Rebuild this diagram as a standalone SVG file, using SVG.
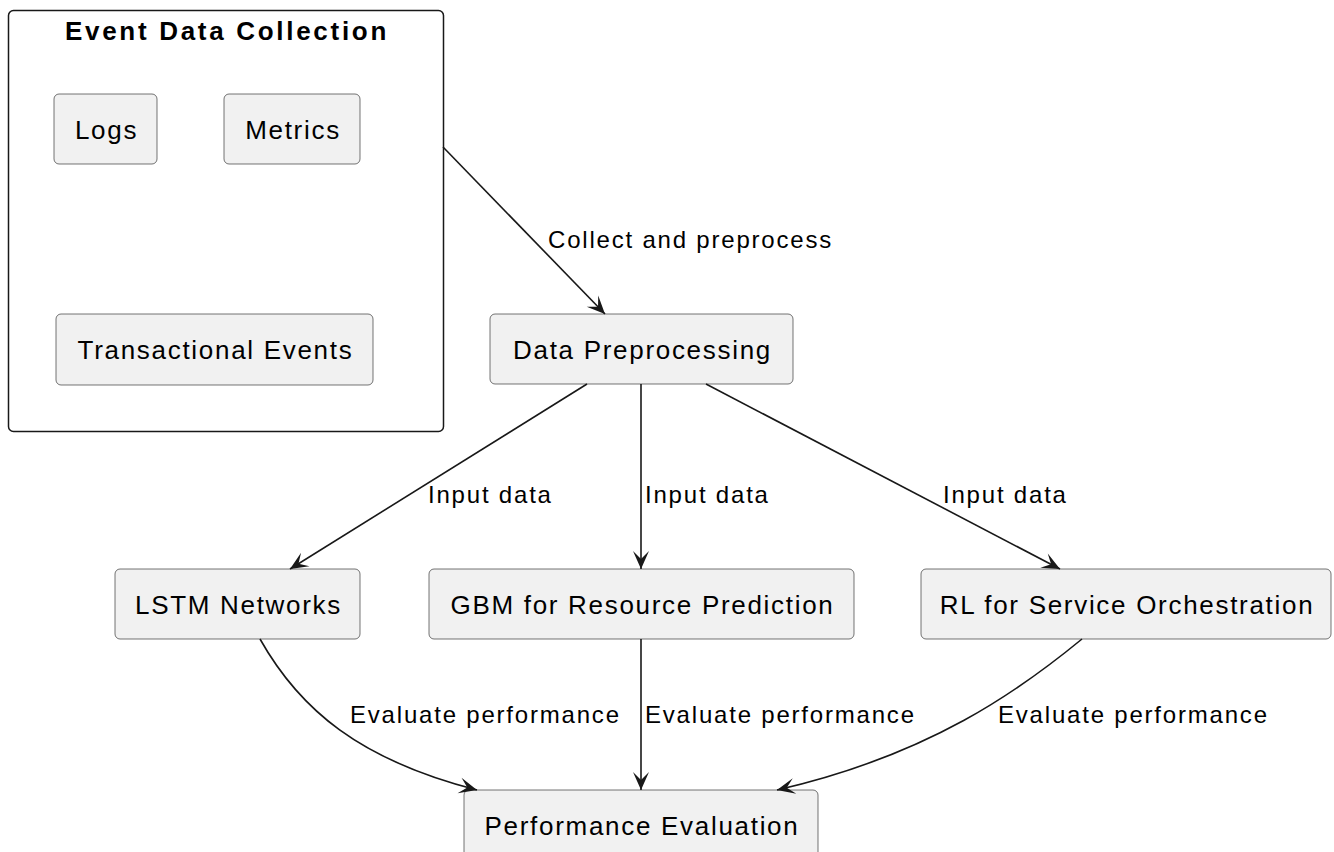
<svg xmlns="http://www.w3.org/2000/svg" width="1334" height="852" viewBox="0 0 1334 852">
<style>
.node rect{fill:#F1F1F1;stroke:#181818;stroke-width:0.6}
.node text{font-family:"Liberation Sans",Arial,sans-serif;font-size:26px;letter-spacing:1.7px;fill:#000;text-anchor:middle}
.cluster rect{fill:none;stroke:#181818;stroke-width:1.5}
.cluster text{font-family:"Liberation Sans",Arial,sans-serif;font-size:26px;font-weight:bold;letter-spacing:2.7px;fill:#000;text-anchor:middle}
.edges path{fill:none;stroke:#181818;stroke-width:1.6}
.lbl{font-family:"Liberation Sans",Arial,sans-serif;font-size:24px;letter-spacing:1.8px;fill:#000}
</style>
<defs>
<marker id="arr" viewBox="-20 -10 22 20" refX="0" refY="0" markerWidth="22" markerHeight="20" markerUnits="userSpaceOnUse" orient="auto">
<path d="M0,0 L-18,-8 L-10,0 L-18,8 Z" fill="#181818"/>
</marker>
</defs>
<rect width="1334" height="852" fill="#FFFFFF"/>
<g id="cluster-event-data-collection" class="cluster">
<rect x="8.5" y="10.5" width="435" height="421" rx="5" ry="5"/>
<text x="227" y="40">Event Data Collection</text>
</g>
<g id="node-logs" class="node">
<rect x="54" y="94" width="103" height="70" rx="5" ry="5"/>
<text x="106.5" y="139">Logs</text>
</g>
<g id="node-metrics" class="node">
<rect x="224" y="94" width="136" height="70" rx="5" ry="5"/>
<text x="293" y="139">Metrics</text>
</g>
<g id="node-transactional-events" class="node">
<rect x="56" y="314" width="317" height="71" rx="5" ry="5"/>
<text x="215.5" y="359">Transactional Events</text>
</g>
<g id="node-data-preprocessing" class="node">
<rect x="490" y="314" width="303" height="70" rx="5" ry="5"/>
<text x="642.5" y="359">Data Preprocessing</text>
</g>
<g id="node-lstm" class="node">
<rect x="115" y="569" width="245" height="70" rx="5" ry="5"/>
<text x="238.5" y="614">LSTM Networks</text>
</g>
<g id="node-gbm" class="node">
<rect x="429" y="569" width="425" height="70" rx="5" ry="5"/>
<text x="642.5" y="614">GBM for Resource Prediction</text>
</g>
<g id="node-rl" class="node">
<rect x="921" y="569" width="410" height="70" rx="5" ry="5"/>
<text x="1127" y="614">RL for Service Orchestration</text>
</g>
<g id="node-performance-evaluation" class="node">
<rect x="464" y="790" width="354" height="80" rx="5" ry="5"/>
<text x="642" y="835">Performance Evaluation</text>
</g>
<g id="edges" class="edges">
<path d="M443,147 L605,314" marker-end="url(#arr)"/>
<path d="M587,384 L290,569" marker-end="url(#arr)"/>
<path d="M641,384 L641,569" marker-end="url(#arr)"/>
<path d="M706,384 L1060,569" marker-end="url(#arr)"/>
<path d="M260,639 C300,710 360,760 477,790" marker-end="url(#arr)"/>
<path d="M641,639 L641,790" marker-end="url(#arr)"/>
<path d="M1082,639 C1020,690 930,755 777,790" marker-end="url(#arr)"/>
<text class="lbl" x="548" y="248">Collect and preprocess</text>
<text class="lbl" x="428" y="503">Input data</text>
<text class="lbl" x="645" y="503">Input data</text>
<text class="lbl" x="943" y="503">Input data</text>
<text class="lbl" x="350" y="723">Evaluate performance</text>
<text class="lbl" x="645" y="723">Evaluate performance</text>
<text class="lbl" x="998" y="723">Evaluate performance</text>
</g>
</svg>
